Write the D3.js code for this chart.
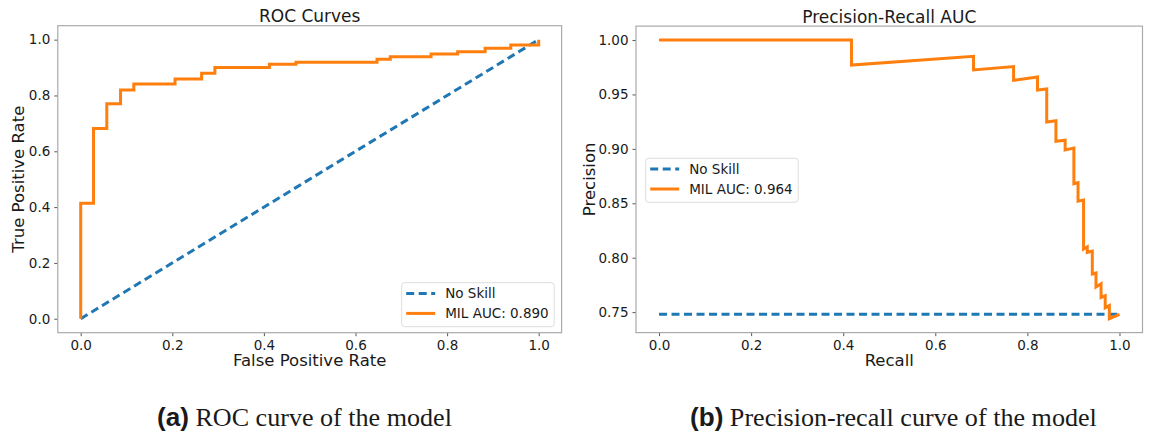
<!DOCTYPE html>
<html>
<head>
<meta charset="utf-8">
<script src="https://cdn.jsdelivr.net/npm/d3@7"></script>
<style>
  body { margin: 0; background: #fff; }
  svg text { font-family: "DejaVu Sans", sans-serif; fill: #1a1a1a; }
</style>
</head>
<body>
<svg id="chart" width="1154" height="434"></svg>
<script>
// ROC curve corners (step after)
const rocFpr = [0, 0, 0.028, 0.057, 0.087, 0.116, 0.206, 0.264, 0.293, 0.412, 0.470, 0.647, 0.676, 0.765, 0.823, 0.883, 0.939, 1.0];
const rocTpr = [0, 0.414, 0.682, 0.770, 0.820, 0.841, 0.859, 0.880, 0.900, 0.912, 0.919, 0.930, 0.939, 0.949, 0.957, 0.969, 0.981, 1.0];
const noSkillRoc = [[0, 0], [1, 1]];

// precision-recall vertices
const prRecall = [0, 0.418, 0.418, 0.683, 0.683, 0.770, 0.770, 0.822, 0.822, 0.842, 0.842, 0.862, 0.862, 0.882, 0.882, 0.901, 0.901, 0.910, 0.910, 0.922, 0.922, 0.930, 0.930, 0.941, 0.941, 0.949, 0.949, 0.960, 0.960, 0.969, 0.969, 0.978, 0.978, 1.0];
const prPrecision = [1.0, 1.0, 0.977, 0.985, 0.9725, 0.9756, 0.963, 0.966, 0.954, 0.955, 0.9246, 0.9258, 0.907, 0.908, 0.899, 0.9008, 0.868, 0.869, 0.852, 0.853, 0.808, 0.810, 0.805, 0.806, 0.785, 0.786, 0.773, 0.776, 0.7635, 0.765, 0.754, 0.756, 0.744, 0.748];
const noSkillPr = [[0, 0.748], [1, 0.748]];

const rocTicks = [0, 0.2, 0.4, 0.6, 0.8, 1.0];
const prYTicks = [0.75, 0.80, 0.85, 0.90, 0.95, 1.00];
const legendLabels = ["No Skill", "MIL AUC: 0.890", "MIL AUC: 0.964"];

const orange = "#ff7f0e";
const blue = "#1f77b4";

const svg = d3.select("#chart");

function pad(ext) {
    const m = (ext[1] - ext[0]) * 0.05;
    return [ext[0] - m, ext[1] + m];
}

function panel(opt) {
    const x = d3.scaleLinear().domain(opt.xDomain).range([opt.left, opt.right]);
    const y = d3.scaleLinear().domain(opt.yDomain).range([opt.bottom, opt.top]);
    const g = svg.append("g");

    // axes
    const xAxis = g.append("g").attr("transform", "translate(0," + opt.bottom + ")")
        .call(d3.axisBottom(x).tickValues(opt.xTicks).tickFormat(d3.format(".1f")).tickSizeOuter(0).tickSize(3.5).tickPadding(4));
    const yAxis = g.append("g").attr("transform", "translate(" + opt.left + ",0)")
        .call(d3.axisLeft(y).tickValues(opt.yTicks).tickFormat(d3.format(opt.yFormat)).tickSizeOuter(0).tickSize(3.5).tickPadding(4));
    [xAxis, yAxis].forEach(a => {
        a.select(".domain").remove();
        a.selectAll(".tick line").attr("stroke", "#444").attr("stroke-width", 0.9);
        a.selectAll(".tick text").style("font-size", "13.5px").attr("fill", "#1a1a1a");
    });

    // lines
    const line = d3.line().x(d => x(d[0])).y(d => y(d[1]));
    g.append("path").datum(opt.noSkill)
        .attr("d", line).attr("fill", "none").attr("stroke", blue)
        .attr("stroke-width", 3).attr("stroke-dasharray", "8,4.5");
    g.append("path").datum(opt.curve)
        .attr("d", line.curve(opt.curveType)).attr("fill", "none").attr("stroke", orange)
        .attr("stroke-width", 3).attr("stroke-linejoin", "miter");

    // frame
    g.append("rect")
        .attr("x", opt.left).attr("y", opt.top)
        .attr("width", opt.right - opt.left).attr("height", opt.bottom - opt.top)
        .attr("fill", "none").attr("stroke", "#aaa").attr("stroke-width", 1.2);

    // labels
    const cx = (opt.left + opt.right) / 2;
    g.append("text").attr("x", cx).attr("y", opt.top - 3.5)
        .attr("text-anchor", "middle").style("font-size", "17px").text(opt.title);
    g.append("text").attr("x", cx).attr("y", opt.bottom + 33)
        .attr("text-anchor", "middle").style("font-size", "16.5px").text(opt.xLabel);
    g.append("text")
        .attr("transform", "translate(" + opt.yLabelX + "," + ((opt.top + opt.bottom) / 2) + ") rotate(-90)")
        .attr("text-anchor", "middle").style("font-size", "16.5px").text(opt.yLabel);

    // legend
    const lg = g.append("g").attr("transform", "translate(" + opt.legend[0] + "," + opt.legend[1] + ")");
    lg.append("rect").attr("width", 152.5).attr("height", 44).attr("rx", 3)
        .attr("fill", "#fff").attr("fill-opacity", 0.85).attr("stroke", "#ddd");
    const items = [[legendLabels[0], blue, "8,4.5"], [opt.legendText, orange, null]];
    items.forEach((it, i) => {
        const yy = 10.7 + i * 20;
        lg.append("line").attr("x1", 4.5).attr("x2", 33.5).attr("y1", yy).attr("y2", yy)
            .attr("stroke", it[1]).attr("stroke-width", 3).attr("stroke-dasharray", it[2]);
        lg.append("text").attr("x", 43.5).attr("y", yy + 5).style("font-size", "13.5px").text(it[0]);
    });
}

panel({
    left: 57.8, right: 561.6, top: 25.7, bottom: 332.7,
    xDomain: [-0.05, 1.05], yDomain: [-0.05, 1.05],
    xTicks: rocTicks, yTicks: rocTicks, yFormat: ".1f",
    curve: rocFpr.map((f, i) => [f, rocTpr[i]]), curveType: d3.curveStepAfter,
    noSkill: noSkillRoc,
    title: "ROC Curves", xLabel: "False Positive Rate", yLabel: "True Positive Rate", yLabelX: 24,
    legend: [401.7, 282.7], legendText: legendLabels[1]
});

panel({
    left: 636, right: 1142.5, top: 26.1, bottom: 332.6,
    xDomain: [-0.05, 1.05], yDomain: pad(d3.extent(prPrecision)),
    xTicks: rocTicks, yTicks: prYTicks, yFormat: ".2f",
    curve: prRecall.map((r, i) => [r, prPrecision[i]]), curveType: d3.curveLinear,
    noSkill: noSkillPr,
    title: "Precision-Recall AUC", xLabel: "Recall", yLabel: "Precision", yLabelX: 595,
    legend: [645.7, 158.3], legendText: legendLabels[2]
});

// captions
function caption(xStart, xEnd, tag, rest) {
    const t = svg.append("text").attr("x", xStart).attr("y", 426.5);
    t.append("tspan").style("font-family", "'Liberation Sans', Arial, sans-serif")
        .style("font-weight", "bold").style("font-size", "25px").text(tag);
    t.append("tspan").style("font-family", "'Liberation Serif', 'Times New Roman', serif")
        .style("font-size", "25px").text(" " + rest);
    const w = t.node().getComputedTextLength();
    t.attr("transform", "translate(" + xStart + ",0) scale(" + ((xEnd - xStart) / w) + ",1) translate(" + (-xStart) + ",0)");
}
caption(157, 452, "(a)", "ROC curve of the model");
caption(690, 1097, "(b)", "Precision-recall curve of the model");
</script>
</body>
</html>
